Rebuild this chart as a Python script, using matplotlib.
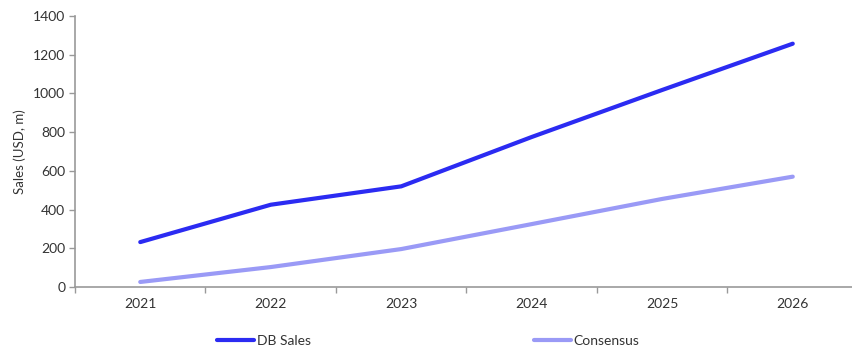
import matplotlib.pyplot as plt
from matplotlib.ticker import MultipleLocator

plt.rcParams['font.family'] = ['Lato', 'DejaVu Sans']

years = ['2021', '2022', '2023', '2024', '2025', '2026']
db_sales = [232, 425, 520, 775, 1018, 1257]
consensus = [26, 103, 196, 325, 455, 570]

fig = plt.figure(figsize=(8.53, 3.5), dpi=100)
ax = fig.add_axes([75 / 853, 1 - 287 / 350, 783 / 853, 271 / 350])

x = range(len(years))
l1, = ax.plot(x, db_sales, color='#2b2bf2', lw=3, solid_capstyle='round', label='DB Sales')
l2, = ax.plot(x, consensus, color='#9a9af6', lw=3, solid_capstyle='round', label='Consensus')

ax.set_xlim(-0.5, len(years) - 0.5)
ax.set_ylim(0, 1400)
ax.yaxis.set_major_locator(MultipleLocator(200))
ax.set_xticks(list(x))
ax.set_xticklabels(years)
ax.set_xticks([i - 0.5 for i in range(len(years) + 1)], minor=True)
ax.tick_params(axis='x', which='major', length=0, pad=8)
ax.tick_params(axis='x', which='minor', length=4, color='#999999', width=1)
ax.tick_params(axis='y', length=4, color='#999999', width=1, pad=3)
ax.tick_params(labelsize=10, labelcolor='#333333')

for s in ['top', 'right']:
    ax.spines[s].set_visible(False)
for s in ['left', 'bottom']:
    ax.spines[s].set_color('#999999')
    ax.spines[s].set_linewidth(1.2)

ax.set_ylabel('Sales (USD, m)', fontsize=9.5, color='#333333', labelpad=5)

fig.legend(handles=[l1, l2], loc='center left', bbox_to_anchor=(217 / 853, 1 - 341 / 350),
           ncol=2, frameon=False, fontsize=10, handlelength=2.7, handletextpad=0.2,
           columnspacing=16.0, borderaxespad=0, borderpad=0, labelcolor='#333333')

fig.savefig('out.png', dpi=100)
